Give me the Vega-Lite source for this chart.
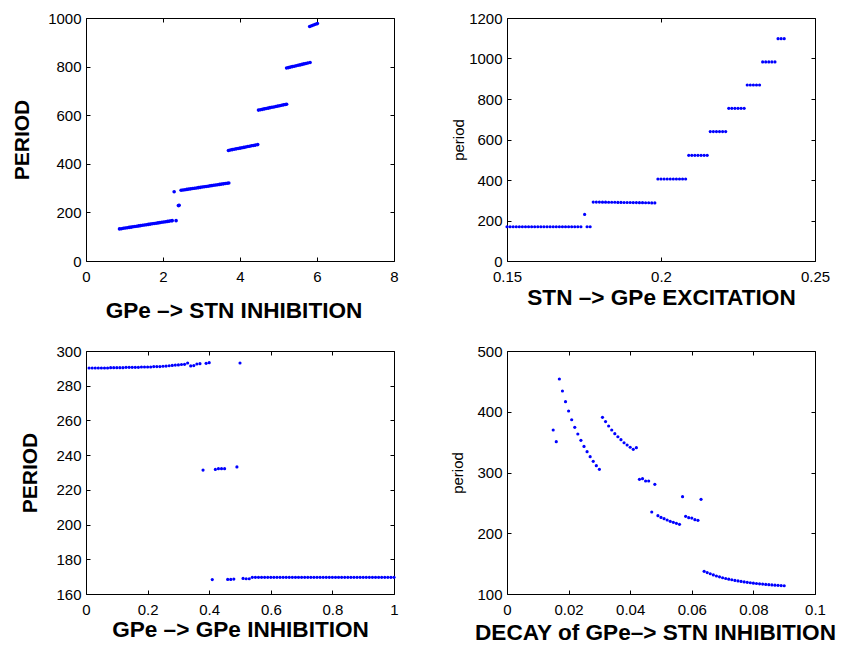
{
  "$schema": "https://vega.github.io/schema/vega-lite/v6.json",
  "background": "white",
  "padding": {"left": 10, "top": 10, "right": 3, "bottom": 10},
  "bounds": "flush",
  "columns": 2,
  "spacing": {"row": 90, "column": 113},
  "datasets": {
    "p1": [
      {"x":0.87,"y":132},{"x":0.92,"y":133},{"x":0.97,"y":134.5},{"x":1.02,"y":135.7},{"x":1.07,"y":137},{"x":1.12,"y":138.2},{"x":1.17,"y":139.4},{"x":1.22,"y":140.7},{"x":1.27,"y":142},{"x":1.32,"y":143.2},{"x":1.37,"y":144.4},{"x":1.42,"y":145.6},{"x":1.47,"y":146.9},{"x":1.52,"y":148.1},{"x":1.57,"y":149.4},{"x":1.62,"y":150.6},{"x":1.67,"y":151.8},{"x":1.72,"y":153.1},{"x":1.77,"y":154.3},{"x":1.82,"y":155.6},{"x":1.87,"y":156.8},{"x":1.92,"y":158},{"x":1.97,"y":159.3},{"x":2.02,"y":160.5},{"x":2.07,"y":161.8},{"x":2.12,"y":163},{"x":2.17,"y":164.3},{"x":2.22,"y":165.5},{"x":2.24,"y":166},
      {"x":2.34,"y":166},{"x":2.29,"y":285},{"x":2.4,"y":228},{"x":2.42,"y":229},
      {"x":2.47,"y":291},{"x":2.52,"y":292},{"x":2.57,"y":293.4},{"x":2.62,"y":294.6},{"x":2.67,"y":295.8},{"x":2.72,"y":297},{"x":2.77,"y":298.3},{"x":2.82,"y":299.5},{"x":2.87,"y":300.7},{"x":2.92,"y":301.9},{"x":2.97,"y":303.1},{"x":3.02,"y":304.3},{"x":3.07,"y":305.5},{"x":3.12,"y":306.7},{"x":3.17,"y":307.9},{"x":3.22,"y":309.2},{"x":3.27,"y":310.4},{"x":3.32,"y":311.6},{"x":3.37,"y":312.8},{"x":3.42,"y":314},{"x":3.47,"y":315.2},{"x":3.52,"y":316.4},{"x":3.57,"y":317.6},{"x":3.62,"y":318.8},{"x":3.67,"y":320},{"x":3.71,"y":321},
      {"x":3.7,"y":455},{"x":3.75,"y":457},{"x":3.8,"y":458.5},{"x":3.85,"y":460},{"x":3.9,"y":461.5},{"x":3.95,"y":463},{"x":4.0,"y":464.5},{"x":4.05,"y":466},{"x":4.1,"y":467.5},{"x":4.15,"y":469},{"x":4.2,"y":471},{"x":4.25,"y":472.5},{"x":4.3,"y":474},{"x":4.35,"y":475.5},{"x":4.4,"y":477},{"x":4.46,"y":479},
      {"x":4.48,"y":621},{"x":4.53,"y":622.5},{"x":4.58,"y":624},{"x":4.63,"y":626},{"x":4.68,"y":627.5},{"x":4.73,"y":629},{"x":4.78,"y":631},{"x":4.83,"y":632.5},{"x":4.88,"y":634},{"x":4.93,"y":636},{"x":4.98,"y":637.5},{"x":5.03,"y":639},{"x":5.08,"y":641},{"x":5.13,"y":642.5},{"x":5.18,"y":644},{"x":5.21,"y":645},
      {"x":5.21,"y":794},{"x":5.26,"y":796},{"x":5.31,"y":798},{"x":5.36,"y":800},{"x":5.41,"y":801.5},{"x":5.46,"y":803.5},{"x":5.51,"y":805.5},{"x":5.56,"y":807},{"x":5.61,"y":809},{"x":5.66,"y":811},{"x":5.71,"y":813},{"x":5.76,"y":815},{"x":5.82,"y":817},
      {"x":5.81,"y":965},{"x":5.86,"y":968},{"x":5.91,"y":971},{"x":5.96,"y":974},{"x":6.01,"y":977}
    ],
    "p2": [
      {"x":0.150,"y":169},{"x":0.151,"y":169},{"x":0.152,"y":169},{"x":0.153,"y":169},{"x":0.154,"y":169},{"x":0.155,"y":169},{"x":0.156,"y":169},{"x":0.157,"y":169},{"x":0.158,"y":169},{"x":0.159,"y":169},{"x":0.160,"y":169},{"x":0.161,"y":169},{"x":0.162,"y":169},{"x":0.163,"y":169},{"x":0.164,"y":169},{"x":0.165,"y":169},{"x":0.166,"y":169},{"x":0.167,"y":169},{"x":0.168,"y":169},{"x":0.169,"y":169},{"x":0.170,"y":169},{"x":0.171,"y":169},{"x":0.172,"y":169},{"x":0.173,"y":169},{"x":0.174,"y":169},
      {"x":0.1752,"y":230},{"x":0.176,"y":169},{"x":0.177,"y":169},
      {"x":0.178,"y":291},{"x":0.179,"y":291},{"x":0.180,"y":291},{"x":0.181,"y":290.5},{"x":0.182,"y":290.5},{"x":0.183,"y":290},{"x":0.184,"y":290},{"x":0.185,"y":290},{"x":0.186,"y":289.5},{"x":0.187,"y":289.5},{"x":0.188,"y":289},{"x":0.189,"y":289},{"x":0.190,"y":289},{"x":0.191,"y":288.5},{"x":0.192,"y":288.5},{"x":0.193,"y":288},{"x":0.194,"y":288},{"x":0.195,"y":287.5},{"x":0.196,"y":287.5},{"x":0.197,"y":287},{"x":0.198,"y":287},
      {"x":0.199,"y":405},{"x":0.200,"y":405},{"x":0.201,"y":405},{"x":0.202,"y":405},{"x":0.203,"y":405},{"x":0.204,"y":405},{"x":0.205,"y":405},{"x":0.206,"y":405},{"x":0.207,"y":405},{"x":0.208,"y":405},
      {"x":0.209,"y":522},{"x":0.210,"y":522},{"x":0.211,"y":522},{"x":0.212,"y":522},{"x":0.213,"y":522},{"x":0.214,"y":522},{"x":0.215,"y":522},
      {"x":0.216,"y":639},{"x":0.217,"y":639},{"x":0.218,"y":639},{"x":0.219,"y":639},{"x":0.220,"y":639},{"x":0.221,"y":639},
      {"x":0.222,"y":754},{"x":0.223,"y":754},{"x":0.224,"y":754},{"x":0.225,"y":754},{"x":0.226,"y":754},{"x":0.227,"y":754},
      {"x":0.228,"y":869},{"x":0.229,"y":869},{"x":0.230,"y":869},{"x":0.231,"y":869},{"x":0.232,"y":869},
      {"x":0.233,"y":983},{"x":0.234,"y":983},{"x":0.235,"y":983},{"x":0.236,"y":983},{"x":0.237,"y":983},
      {"x":0.238,"y":1098},{"x":0.239,"y":1098},{"x":0.240,"y":1098}
    ],
    "p3": [
      {"x":0.01,"y":290.2},{"x":0.02,"y":290.2},{"x":0.03,"y":290.2},{"x":0.04,"y":290.2},{"x":0.05,"y":290.2},{"x":0.06,"y":290.2},{"x":0.07,"y":290.2},
      {"x":0.08,"y":290.4},{"x":0.09,"y":290.4},{"x":0.10,"y":290.4},{"x":0.11,"y":290.4},{"x":0.12,"y":290.4},
      {"x":0.13,"y":290.6},{"x":0.14,"y":290.6},{"x":0.15,"y":290.6},{"x":0.16,"y":290.6},{"x":0.17,"y":290.6},
      {"x":0.18,"y":290.8},{"x":0.19,"y":290.8},{"x":0.20,"y":290.8},{"x":0.21,"y":290.8},
      {"x":0.22,"y":291.0},{"x":0.23,"y":291.0},{"x":0.24,"y":291.0},
      {"x":0.25,"y":291.2},{"x":0.26,"y":291.3},{"x":0.27,"y":291.5},{"x":0.28,"y":291.7},{"x":0.29,"y":291.9},{"x":0.30,"y":292.0},{"x":0.31,"y":292.2},{"x":0.32,"y":292.3},{"x":0.33,"y":293.1},{"x":0.34,"y":291.4},{"x":0.35,"y":291.6},{"x":0.36,"y":292.5},{"x":0.37,"y":292.7},{"x":0.39,"y":292.9},{"x":0.40,"y":293.3},{"x":0.50,"y":293.1},
      {"x":0.38,"y":231.4},{"x":0.42,"y":231.8},{"x":0.43,"y":232.2},{"x":0.44,"y":232.2},{"x":0.45,"y":232.2},{"x":0.49,"y":233.2},
      {"x":0.41,"y":168.3},{"x":0.46,"y":168.4},{"x":0.47,"y":168.4},{"x":0.48,"y":168.6},{"x":0.51,"y":169.0},{"x":0.52,"y":168.8},{"x":0.53,"y":168.8},
      {"x":0.54,"y":169.6},{"x":0.55,"y":169.6},{"x":0.56,"y":169.6},{"x":0.57,"y":169.6},{"x":0.58,"y":169.6},{"x":0.59,"y":169.6},{"x":0.60,"y":169.6},{"x":0.61,"y":169.6},{"x":0.62,"y":169.6},{"x":0.63,"y":169.6},{"x":0.64,"y":169.6},{"x":0.65,"y":169.6},{"x":0.66,"y":169.6},{"x":0.67,"y":169.6},{"x":0.68,"y":169.6},{"x":0.69,"y":169.6},{"x":0.70,"y":169.6},{"x":0.71,"y":169.6},{"x":0.72,"y":169.6},{"x":0.73,"y":169.6},{"x":0.74,"y":169.6},{"x":0.75,"y":169.6},{"x":0.76,"y":169.6},{"x":0.77,"y":169.6},{"x":0.78,"y":169.6},{"x":0.79,"y":169.6},{"x":0.80,"y":169.6},{"x":0.81,"y":169.6},{"x":0.82,"y":169.6},{"x":0.83,"y":169.6},{"x":0.84,"y":169.6},{"x":0.85,"y":169.6},{"x":0.86,"y":169.6},{"x":0.87,"y":169.6},{"x":0.88,"y":169.6},{"x":0.89,"y":169.6},{"x":0.90,"y":169.6},{"x":0.91,"y":169.6},{"x":0.92,"y":169.6},{"x":0.93,"y":169.6},{"x":0.94,"y":169.6},{"x":0.95,"y":169.6},{"x":0.96,"y":169.6},{"x":0.97,"y":169.6},{"x":0.98,"y":169.6},{"x":0.99,"y":169.6},{"x":1.00,"y":169.6}
    ],
    "p4": [
      {"x":0.015,"y":370},{"x":0.016,"y":350.7},
      {"x":0.017,"y":453.9},{"x":0.018,"y":434.2},{"x":0.019,"y":416.6},{"x":0.020,"y":401.2},{"x":0.021,"y":386.9},{"x":0.022,"y":374.3},{"x":0.023,"y":363.4},{"x":0.024,"y":352.9},{"x":0.025,"y":343.0},{"x":0.026,"y":334.3},{"x":0.027,"y":326.0},{"x":0.028,"y":318.4},{"x":0.029,"y":311.2},{"x":0.030,"y":305.2},
      {"x":0.031,"y":390.8},{"x":0.032,"y":383.8},{"x":0.033,"y":376.5},{"x":0.034,"y":370},{"x":0.035,"y":363.9},{"x":0.036,"y":358.9},{"x":0.037,"y":354},{"x":0.038,"y":349},{"x":0.039,"y":345.3},{"x":0.040,"y":341.5},{"x":0.041,"y":338.1},{"x":0.042,"y":340.9},
      {"x":0.043,"y":288.8},{"x":0.044,"y":289.8},{"x":0.045,"y":286},{"x":0.046,"y":286},{"x":0.048,"y":280.5},
      {"x":0.047,"y":235},{"x":0.049,"y":228.9},{"x":0.050,"y":226},{"x":0.051,"y":224},{"x":0.052,"y":221.8},{"x":0.053,"y":219.6},{"x":0.054,"y":218},{"x":0.055,"y":216.3},{"x":0.056,"y":214.7},
      {"x":0.057,"y":260.2},
      {"x":0.058,"y":227.9},{"x":0.059,"y":225.6},{"x":0.060,"y":225},{"x":0.061,"y":222.3},{"x":0.062,"y":221.2},
      {"x":0.063,"y":255.8},
      {"x":0.064,"y":137.3},{"x":0.065,"y":135.2},{"x":0.066,"y":133.3},{"x":0.067,"y":131.4},{"x":0.068,"y":129.7},{"x":0.069,"y":128.2},{"x":0.070,"y":126.8},{"x":0.071,"y":125.5},{"x":0.072,"y":124.4},{"x":0.073,"y":123.4},{"x":0.074,"y":122.4},{"x":0.075,"y":121.5},{"x":0.076,"y":120.7},{"x":0.077,"y":119.9},{"x":0.078,"y":119.2},{"x":0.079,"y":118.5},{"x":0.080,"y":117.9},{"x":0.081,"y":117.3},{"x":0.082,"y":116.8},{"x":0.083,"y":116.3},{"x":0.084,"y":115.8},{"x":0.085,"y":115.4},{"x":0.086,"y":115.0},{"x":0.087,"y":114.6},{"x":0.088,"y":114.2},{"x":0.089,"y":113.9},{"x":0.090,"y":113.6}
    ]
  },
  "concat": [
    {
      "width": 308, "height": 243,
      "data": {"name": "p1"},
      "layer": [
        {"mark": {"type": "circle", "size": 13, "color": "#0000ff", "opacity": 1},
         "encoding": {
           "x": {"field": "x", "type": "quantitative", "scale": {"domain": [0, 8], "nice": false, "zero": false},
                 "axis": {"orient": "bottom", "values": [0, 2, 4, 6, 8], "title": "GPe –> STN INHIBITION", "titleFontSize": 22.6, "titleFontWeight": "bold", "titlePadding": 15, "titleX": 147.5}},
           "y": {"field": "y", "type": "quantitative", "scale": {"domain": [0, 1000], "nice": false, "zero": false},
                 "axis": {"orient": "left", "values": [0, 200, 400, 600, 800, 1000], "title": "PERIOD", "titleFontSize": 21, "titleFontWeight": "bold", "titlePadding": 15.5}}
         }},
        {"mark": {"type": "circle", "opacity": 0},
         "encoding": {
           "x": {"field": "x", "type": "quantitative", "axis": {"orient": "top", "values": [0, 2, 4, 6, 8], "labels": false, "title": null}},
           "y": {"field": "y", "type": "quantitative", "axis": {"orient": "right", "values": [0, 200, 400, 600, 800, 1000], "labels": false, "title": null}}
         }}
      ],
      "resolve": {"axis": {"x": "independent", "y": "independent"}}
    },
    {
      "width": 308, "height": 243,
      "data": {"name": "p2"},
      "layer": [
        {"mark": {"type": "circle", "size": 10, "color": "#0000ff", "opacity": 1},
         "encoding": {
           "x": {"field": "x", "type": "quantitative", "scale": {"domain": [0.15, 0.25], "nice": false, "zero": false},
                 "axis": {"orient": "bottom", "values": [0.15, 0.2, 0.25], "title": "STN –> GPe EXCITATION", "titleFontSize": 22.6, "titleFontWeight": "bold", "titlePadding": 1.6, "titleX": 154}},
           "y": {"field": "y", "type": "quantitative", "scale": {"domain": [0, 1200], "nice": false, "zero": false},
                 "axis": {"orient": "left", "values": [0, 200, 400, 600, 800, 1000, 1200], "title": "period", "titleFontSize": 15, "titleFontWeight": "normal", "titlePadding": 2.6}}
         }},
        {"mark": {"type": "circle", "opacity": 0},
         "encoding": {
           "x": {"field": "x", "type": "quantitative", "axis": {"orient": "top", "values": [0.15, 0.2, 0.25], "labels": false, "title": null}},
           "y": {"field": "y", "type": "quantitative", "axis": {"orient": "right", "values": [0, 200, 400, 600, 800, 1000, 1200], "labels": false, "title": null}}
         }}
      ],
      "resolve": {"axis": {"x": "independent", "y": "independent"}}
    },
    {
      "width": 308, "height": 243,
      "data": {"name": "p3"},
      "layer": [
        {"mark": {"type": "circle", "size": 10, "color": "#0000ff", "opacity": 1},
         "encoding": {
           "x": {"field": "x", "type": "quantitative", "scale": {"domain": [0, 1], "nice": false, "zero": false},
                 "axis": {"orient": "bottom", "values": [0, 0.2, 0.4, 0.6, 0.8, 1], "title": "GPe –> GPe INHIBITION", "titleFontSize": 22.6, "titleFontWeight": "bold", "titlePadding": 0.5, "titleX": 154}},
           "y": {"field": "y", "type": "quantitative", "scale": {"domain": [160, 300], "nice": false, "zero": false},
                 "axis": {"orient": "left", "values": [160, 180, 200, 220, 240, 260, 280, 300], "title": "PERIOD", "titleFontSize": 21, "titleFontWeight": "bold", "titlePadding": 15.5}}
         }},
        {"mark": {"type": "circle", "opacity": 0},
         "encoding": {
           "x": {"field": "x", "type": "quantitative", "axis": {"orient": "top", "values": [0, 0.2, 0.4, 0.6, 0.8, 1], "labels": false, "title": null}},
           "y": {"field": "y", "type": "quantitative", "axis": {"orient": "right", "values": [160, 180, 200, 220, 240, 260, 280, 300], "labels": false, "title": null}}
         }}
      ],
      "resolve": {"axis": {"x": "independent", "y": "independent"}}
    },
    {
      "width": 308, "height": 243,
      "data": {"name": "p4"},
      "layer": [
        {"mark": {"type": "circle", "size": 10, "color": "#0000ff", "opacity": 1},
         "encoding": {
           "x": {"field": "x", "type": "quantitative", "scale": {"domain": [0, 0.1], "nice": false, "zero": false},
                 "axis": {"orient": "bottom", "values": [0, 0.02, 0.04, 0.06, 0.08, 0.1], "title": "DECAY of GPe–> STN INHIBITION", "titleFontSize": 22.6, "titleFontWeight": "bold", "titlePadding": 3.6, "titleX": 148}},
           "y": {"field": "y", "type": "quantitative", "scale": {"domain": [100, 500], "nice": false, "zero": false},
                 "axis": {"orient": "left", "values": [100, 200, 300, 400, 500], "title": "period", "titleFontSize": 15, "titleFontWeight": "normal", "titlePadding": 11}}
         }},
        {"mark": {"type": "circle", "opacity": 0},
         "encoding": {
           "x": {"field": "x", "type": "quantitative", "axis": {"orient": "top", "values": [0, 0.02, 0.04, 0.06, 0.08, 0.1], "labels": false, "title": null}},
           "y": {"field": "y", "type": "quantitative", "axis": {"orient": "right", "values": [100, 200, 300, 400, 500], "labels": false, "title": null}}
         }}
      ],
      "resolve": {"axis": {"x": "independent", "y": "independent"}}
    }
  ],
  "config": {
    "view": {"stroke": "black", "strokeWidth": 1},
    "axis": {
      "domain": false, "grid": false, "ticks": true, "tickColor": "black", "tickSize": -4, "tickWidth": 1,
      "labelFont": "Liberation Sans", "labelFontSize": 15, "labelColor": "black", "labelFlush": false, "labelOverlap": false, "labelBound": false,
      "titleFont": "Liberation Sans", "titleColor": "black", "labelExpr": "'' + datum.value"
    },
    "axisX": {"labelPadding": 12.5},
    "axisY": {"labelPadding": 9}
  }
}
